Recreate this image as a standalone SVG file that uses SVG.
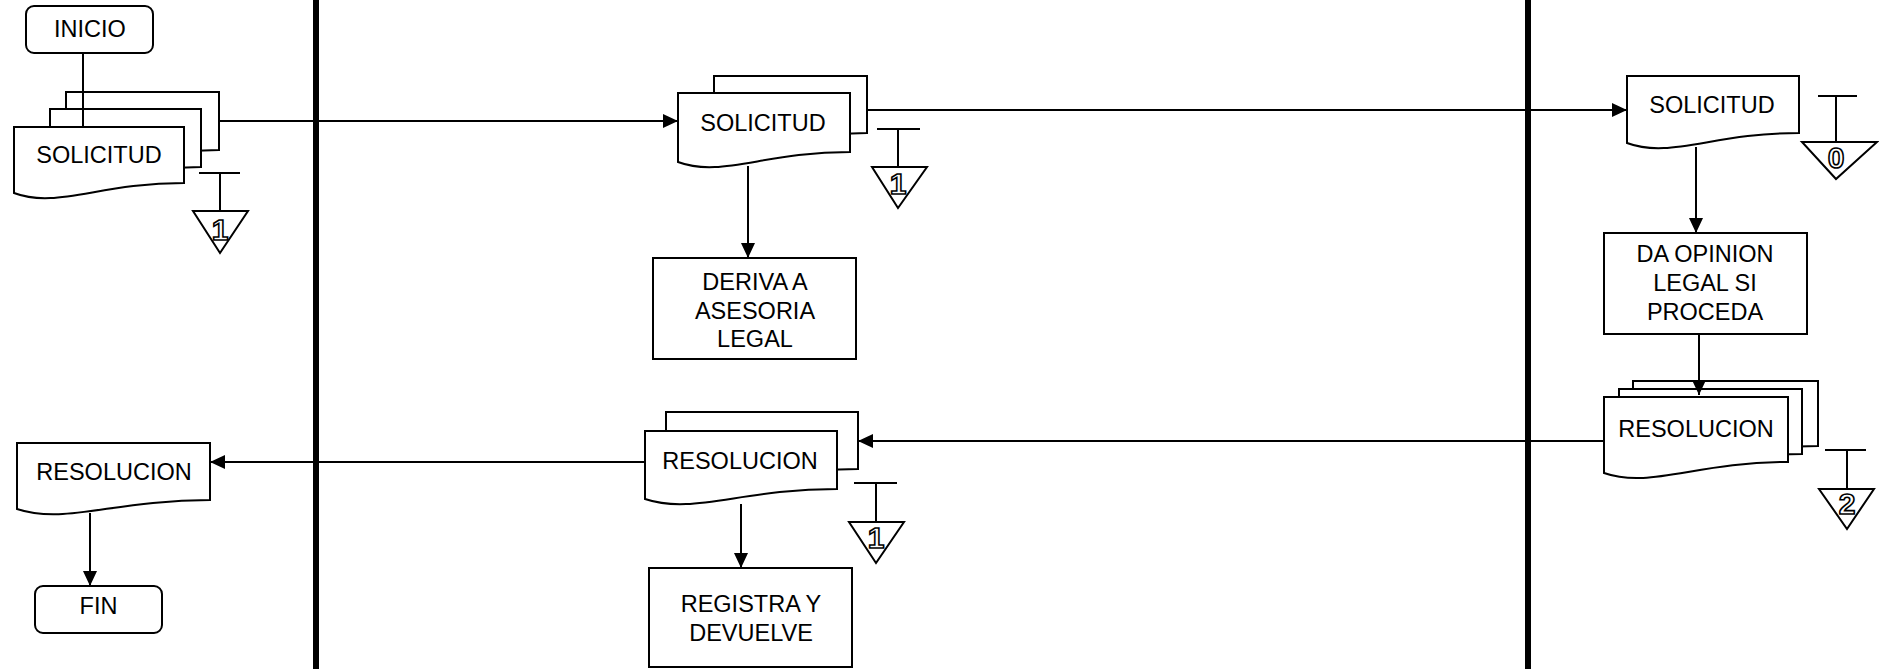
<svg xmlns="http://www.w3.org/2000/svg" width="1879" height="669" viewBox="0 0 1879 669">
<style>
.s{fill:#fff;stroke:#000;stroke-width:2}
.t{font-family:"Liberation Sans",Arial,sans-serif;font-size:23.5px;fill:#000;text-anchor:middle}
.n{font-family:"Liberation Sans",Arial,sans-serif;font-size:30px;font-weight:bold;fill:#fff;stroke:#000;stroke-width:1.6;text-anchor:middle}
.c{fill:none;stroke:#000;stroke-width:2}
.lane{stroke:#000;stroke-width:6}
</style>
<defs>
<marker id="ah" markerUnits="userSpaceOnUse" markerWidth="15" markerHeight="14" refX="15" refY="7" orient="auto">
<path d="M0,0 L15,7 L0,14 Z" fill="#000"/>
</marker>
</defs>
<rect width="1879" height="669" fill="#fff"/>
<g id="lanes">
<line class="lane" x1="316" y1="0" x2="316" y2="669"/>
<line class="lane" x1="1528" y1="0" x2="1528" y2="669"/>
</g>
<g id="inicio">
<rect class="s" x="26" y="6" width="127" height="47" rx="8"/>
<text class="t" x="90" y="37">INICIO</text>
</g>
<g id="doc-solicitud-1">
<path class="s" d="M66,92 H219 V150 C142.5,150 104.25,176 66,160 Z"/>
<path class="s" d="M50,109 H201 V167 C125.5,167 87.75,193 50,177 Z"/>
<path class="s" d="M14,127 H184 V183 C99,183 56.5,209 14,193 Z"/>
<text class="t" x="99" y="163">SOLICITUD</text>
</g>
<g id="archivo-1a">
<line class="c" x1="199" y1="173" x2="240" y2="173"/>
<line class="c" x1="220" y1="173" x2="220" y2="211"/>
<polygon class="s" points="193,211 248,211 220,253"/>
<text class="n" x="220" y="240">1</text>
</g>
<g id="doc-solicitud-2">
<path class="s" d="M714,76 H867 V133 C790.5,133 752.25,159 714,143 Z"/>
<path class="s" d="M678,93 H850 V152 C764,152 721,178 678,162 Z"/>
<text class="t" x="763" y="131">SOLICITUD</text>
</g>
<g id="archivo-1b">
<line class="c" x1="877" y1="129" x2="920" y2="129"/>
<line class="c" x1="898" y1="129" x2="898" y2="167"/>
<polygon class="s" points="872,167 927,167 898,208"/>
<text class="n" x="898" y="194">1</text>
</g>
<g id="deriva">
<rect class="s" x="653" y="258" width="203" height="101"/>
<text class="t" x="755" y="290">DERIVA A</text>
<text class="t" x="755" y="319">ASESORIA</text>
<text class="t" x="755" y="347">LEGAL</text>
</g>
<g id="doc-solicitud-3">
<path class="s" d="M1627,76 H1799 V133 C1713,133 1670,159 1627,143 Z"/>
<text class="t" x="1712" y="113">SOLICITUD</text>
</g>
<g id="archivo-0">
<line class="c" x1="1818" y1="96" x2="1857" y2="96"/>
<line class="c" x1="1836" y1="96" x2="1836" y2="142"/>
<polygon class="s" points="1802,142 1877,142 1836,179"/>
<text class="n" x="1836" y="168">0</text>
</g>
<g id="opinion">
<rect class="s" x="1604" y="233" width="203" height="101"/>
<text class="t" x="1705" y="262">DA OPINION</text>
<text class="t" x="1705" y="291">LEGAL SI</text>
<text class="t" x="1705" y="320">PROCEDA</text>
</g>
<g id="doc-resolucion-1">
<path class="s" d="M1633,381 H1818 V446 C1725.5,446 1679.25,472 1633,456 Z"/>
<path class="s" d="M1619,389 H1802 V454 C1710.5,454 1664.75,480 1619,464 Z"/>
<path class="s" d="M1604,397 H1788 V462 C1696,462 1650,489 1604,473 Z"/>
<text class="t" x="1696" y="437">RESOLUCION</text>
</g>
<g id="archivo-2">
<line class="c" x1="1825" y1="450" x2="1866" y2="450"/>
<line class="c" x1="1847" y1="450" x2="1847" y2="489"/>
<polygon class="s" points="1819,489 1874,489 1847,529"/>
<text class="n" x="1847" y="514">2</text>
</g>
<g id="doc-resolucion-2">
<path class="s" d="M666,412 H858 V469 C762,469 714,495 666,479 Z"/>
<path class="s" d="M645,431 H837 V489 C741,489 693,515 645,499 Z"/>
<text class="t" x="740" y="469">RESOLUCION</text>
</g>
<g id="archivo-1c">
<line class="c" x1="854" y1="483" x2="897" y2="483"/>
<line class="c" x1="876" y1="483" x2="876" y2="522"/>
<polygon class="s" points="849,522 904,522 876,563"/>
<text class="n" x="876" y="548">1</text>
</g>
<g id="registra">
<rect class="s" x="649" y="568" width="203" height="99"/>
<text class="t" x="751" y="612">REGISTRA Y</text>
<text class="t" x="751" y="641">DEVUELVE</text>
</g>
<g id="doc-resolucion-3">
<path class="s" d="M17,443 H210 V500 C113.5,500 65.25,525 17,509 Z"/>
<text class="t" x="114" y="480">RESOLUCION</text>
</g>
<g id="fin">
<rect class="s" x="35" y="586" width="127" height="47" rx="8"/>
<text class="t" x="98.5" y="614">FIN</text>
</g>
<g id="connectors">
<line class="c" x1="83" y1="53" x2="83" y2="127"/>
<line class="c" x1="219" y1="121" x2="678" y2="121" marker-end="url(#ah)"/>
<line class="c" x1="867" y1="110" x2="1627" y2="110" marker-end="url(#ah)"/>
<line class="c" x1="748" y1="166" x2="748" y2="258" marker-end="url(#ah)"/>
<line class="c" x1="1696" y1="147" x2="1696" y2="233" marker-end="url(#ah)"/>
<line class="c" x1="1699" y1="334" x2="1699" y2="395" marker-end="url(#ah)"/>
<line class="c" x1="1604" y1="441" x2="858" y2="441" marker-end="url(#ah)"/>
<line class="c" x1="645" y1="462" x2="210" y2="462" marker-end="url(#ah)"/>
<line class="c" x1="741" y1="504" x2="741" y2="568" marker-end="url(#ah)"/>
<line class="c" x1="90" y1="513" x2="90" y2="586" marker-end="url(#ah)"/>
</g>
</svg>
